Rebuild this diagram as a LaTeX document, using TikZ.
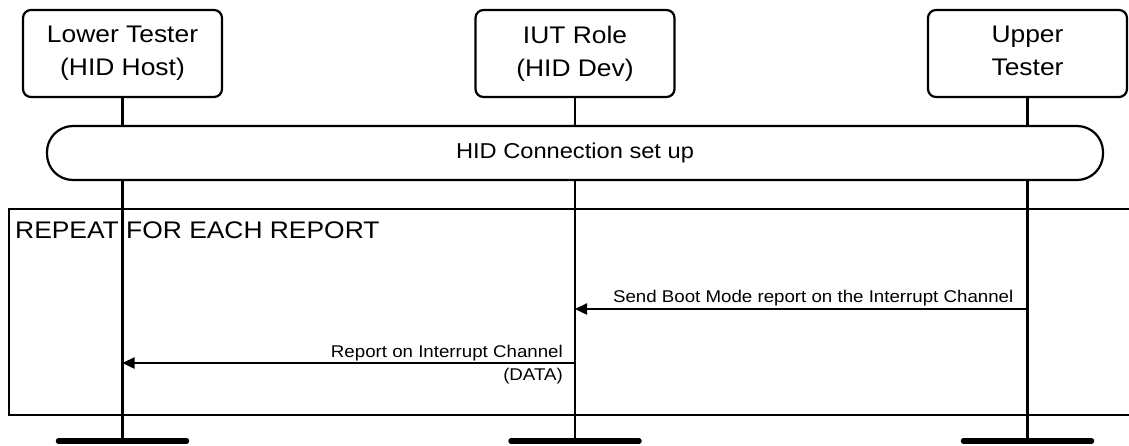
\documentclass[tikz,border=0pt]{standalone}
\usepackage{fontspec}
\setmainfont{Liberation Sans}[FakeStretch=1.1]
\usetikzlibrary{arrows.meta,calc}
\begin{document}
\begin{tikzpicture}[x=1pt,y=-1pt,
  actor/.style={draw,line width=2.2pt,rounded corners=8pt,fill=white,
    minimum width=199pt,minimum height=87pt,align=center,inner sep=0pt,
    font=\fontsize{24}{33}\selectfont},
  phase/.style={draw,line width=2.2pt,rounded corners=26pt,fill=white,
    minimum width=1056pt,minimum height=54pt,inner sep=0pt,
    font=\fontsize{21.5}{26}\selectfont},
  life/.style={line width=2.2pt},
  bar/.style={line width=5.5pt,line cap=round},
  msg/.style={line width=2.4pt,-{Triangle[length=12pt,width=11pt]}},
  lbl/.style={inner sep=0pt,font=\fontsize{17}{20}\selectfont},
  frame/.style={line width=2.2pt},
  frametxt/.style={inner sep=0pt,font=\fontsize{24}{28}\selectfont}]
\useasboundingbox (0,0) rectangle (1129,445);
% actors
\node[actor] (lt) at (122.5,53.5) {Lower Tester\\(HID Host)};
\node[actor] (iut) at (575,53.5) {IUT Role\\(HID Dev)};
\node[actor] (ut) at (1027.5,53.5) {Upper\\Tester\vphantom{()}};
% lifeline ends
\coordinate (ltend) at (lt.south |- 0,441);
\coordinate (iutend) at (iut.south |- 0,441);
\coordinate (utend) at (ut.south |- 0,441);
\draw[life] (lt.south) -- (ltend);
\draw[life] (iut.south) -- (iutend);
\draw[life] (ut.south) -- (utend);
\foreach \e in {ltend,iutend,utend}
  \draw[bar] ($(\e)+(-64,0)$) -- ($(\e)+(64,0)$);
% connection set up
\node[phase] (hid) at (575,153) {HID Connection set up};
% repeat frame
\coordinate (fr1) at (1129,209);
\coordinate (fr2) at (9,209);
\coordinate (fr3) at (9,415);
\coordinate (fr4) at (1129,415);
\draw[frame] (fr1) -- (fr2) -- (fr3) -- (fr4);
\node[frametxt,anchor=base west] (rep) at (15,238) {REPEAT FOR EACH REPORT};
% messages
\coordinate (m1a) at (ut.south |- 0,309);
\coordinate (m1b) at (iut.south |- 0,309);
\draw[msg] (m1a) -- (m1b);
\node[lbl,anchor=base east] (l1) at ($(m1a)+(-14,-7)$) {Send Boot Mode report on the Interrupt Channel};
\coordinate (m2a) at (iut.south |- 0,363);
\coordinate (m2b) at (lt.south |- 0,363);
\draw[msg] (m2a) -- (m2b);
\node[lbl,anchor=base east] (l2) at ($(m2a)+(-12,-6)$) {Report on Interrupt Channel};
\node[lbl,anchor=base east] (l3) at ($(m2a)+(-12,17)$) {(DATA)};
\end{tikzpicture}
\end{document}
